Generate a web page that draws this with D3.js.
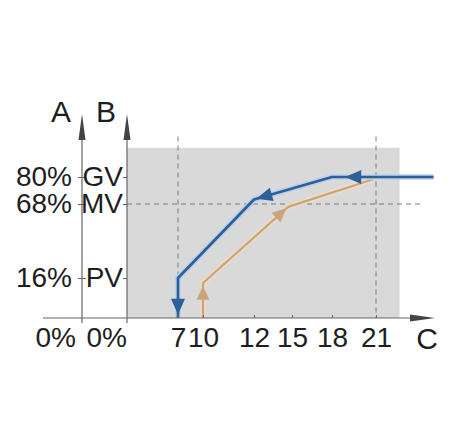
<!DOCTYPE html>
<html lang="en">
<head>
<meta charset="UTF-8">
<title>Switching hysteresis</title>
<script src="https://d3js.org/d3.v7.min.js"></script>
<style>
    body { margin: 0; background: #fff; }
    svg { display: block; }
    text { font-family: 'Liberation Sans', Arial, sans-serif; fill: #1e1e1e; }
    .tick text { font-size: 28px; }
    .axis-line { stroke: #666; stroke-width: 1.2; }
    .ref { stroke: #7a7a7a; stroke-width: 1; stroke-dasharray: 5,4; fill: none; }
</style>
</head>
<body>
<svg width="459" height="422"></svg>
<script>
    // values
    const xTicks = [7, 10, 12, 15, 18, 21];
    const xBreaks = [0, 7, 10, 12, 15, 18, 21, 25];
    const yTicks = [16, 68, 80];
    const yBreaks = [0, 16, 68, 80];
    const aLabels = ["16%", "68%", "80%"];
    const bLabels = ["PV", "MV", "GV"];
    const zeroLabels = ["0%", "0%"];
    const shadeX = [0, 22.6];
    const shadeY = [0, 93];
    const refX = [7, 21];
    const refY = [68];
    // falling branch (blue) and rising branch (tan)
    const fallCurve = [[24.9, 80], [18, 80], [12, 70], [7, 16], [7, 0]];
    const riseCurve = [[10, 0], [10, 14], [14.7, 66], [20.8, 79]];
    // arrows: segment index, position along it
    const fallArrows = [[0, 0.87], [1, 0.97], [3, 0.92]];
    const riseArrows = [[0, 0.92], [1, 0.98]];

    const svg = d3.select("svg");
    const axA = 82, axB = 127;

    // piecewise scales, the drawing is not to scale
    const x = d3.scaleLinear().domain(xBreaks).range([127, 178, 203, 254, 292, 332, 376, 435]);
    const y = d3.scaleLinear().domain(yBreaks).range([318, 278, 204, 177]);

    // shaded band
    svg.append("rect")
        .attr("x", x(shadeX[0])).attr("y", y(shadeY[1]))
        .attr("width", x(shadeX[1]) - x(shadeX[0]))
        .attr("height", y(shadeY[0]) - y(shadeY[1]))
        .attr("fill", "#d9d9d9");

    // dashed reference lines
    refX.forEach(v => svg.append("line").attr("class", "ref")
        .attr("x1", x(v)).attr("x2", x(v)).attr("y1", y(98)).attr("y2", y(0)));
    refY.forEach(v => svg.append("line").attr("class", "ref")
        .attr("x1", x(0)).attr("x2", x(24)).attr("y1", y(v)).attr("y2", y(v)));

    // curves
    const line = d3.line().x(d => x(d[0])).y(d => y(d[1]));
    function curve(data, halo, color, w) {
        svg.append("path").datum(data).attr("d", line)
            .attr("fill", "none").attr("stroke", halo).attr("stroke-width", w + 3)
            .attr("stroke-linejoin", "round");
        svg.append("path").datum(data).attr("d", line)
            .attr("fill", "none").attr("stroke", color).attr("stroke-width", w)
            .attr("stroke-linejoin", "round");
    }
    function arrows(data, list, color, len, wid) {
        list.forEach(([i, t]) => {
            const x0 = x(data[i][0]), y0 = y(data[i][1]);
            const x1 = x(data[i + 1][0]), y1 = y(data[i + 1][1]);
            const tx = x0 + (x1 - x0) * t, ty = y0 + (y1 - y0) * t;
            const ang = Math.atan2(y1 - y0, x1 - x0) * 180 / Math.PI;
            svg.append("path")
                .attr("d", `M0,0 L${-len},${-wid / 2} L${-len},${wid / 2} Z`)
                .attr("transform", `translate(${tx},${ty}) rotate(${ang})`)
                .attr("fill", color);
        });
    }
    curve(riseCurve, "#f1dcc4", "#c9a47c", 2.2);
    curve(fallCurve, "#b9d1ea", "#2f5f98", 2.7);
    arrows(riseCurve, riseArrows, "#c9a47c", 14, 13);
    arrows(fallCurve, fallArrows, "#2f5f98", 16, 14);

    // A and B axes
    const gA = svg.append("g").attr("transform", `translate(${axA},0)`)
        .call(d3.axisLeft(y).tickValues(yTicks).tickFormat((d, i) => aLabels[i])
            .tickSize(4).tickPadding(4));
    gA.select(".domain").remove();
    gA.selectAll(".tick line").attr("x1", 4).attr("stroke", "#666");
    gA.selectAll(".tick text").attr("dx", "-2");

    const gB = svg.append("g").attr("transform", `translate(${axB},0)`)
        .call(d3.axisLeft(y).tickValues(yTicks).tickFormat((d, i) => bLabels[i])
            .tickSize(4).tickPadding(0));
    gB.select(".domain").remove();
    gB.selectAll(".tick line").attr("stroke", "#666");

    [axA, axB].forEach(px => {
        svg.append("line").attr("class", "axis-line")
            .attr("x1", px).attr("x2", px).attr("y1", y(0) + 5).attr("y2", 130);
        svg.append("path").attr("fill", "#444")
            .attr("d", `M${px},114 L${px - 3.5},140 L${px + 3.5},140 Z`);
    });

    // C axis
    const gC = svg.append("g").attr("transform", `translate(0,${y(0)})`)
        .call(d3.axisBottom(x).tickValues(xTicks).tickSizeInner(-3).tickSizeOuter(0).tickPadding(9));
    gC.select(".domain").remove();
    gC.selectAll(".tick line").attr("stroke", "#666");
    svg.append("line").attr("class", "axis-line")
        .attr("x1", 43).attr("x2", 420).attr("y1", y(0)).attr("y2", y(0));
    svg.append("path").attr("fill", "#444")
        .attr("d", `M435,${y(0)} L410,${y(0) - 3.5} L410,${y(0) + 3.5} Z`);

    // zero labels under the A and B axes
    [axA - 6, axB].forEach((px, i) => svg.append("text")
        .attr("x", px).attr("y", 347).attr("text-anchor", "end")
        .attr("font-size", 28).text(zeroLabels[i]));

    // axis names
    svg.append("text").attr("x", 61).attr("y", 122).attr("text-anchor", "middle")
        .attr("font-size", 30).text("A");
    svg.append("text").attr("x", 106).attr("y", 122).attr("text-anchor", "middle")
        .attr("font-size", 30).text("B");
    svg.append("text").attr("x", 427).attr("y", 349).attr("text-anchor", "middle")
        .attr("font-size", 30).text("C");
</script>
</body>
</html>
